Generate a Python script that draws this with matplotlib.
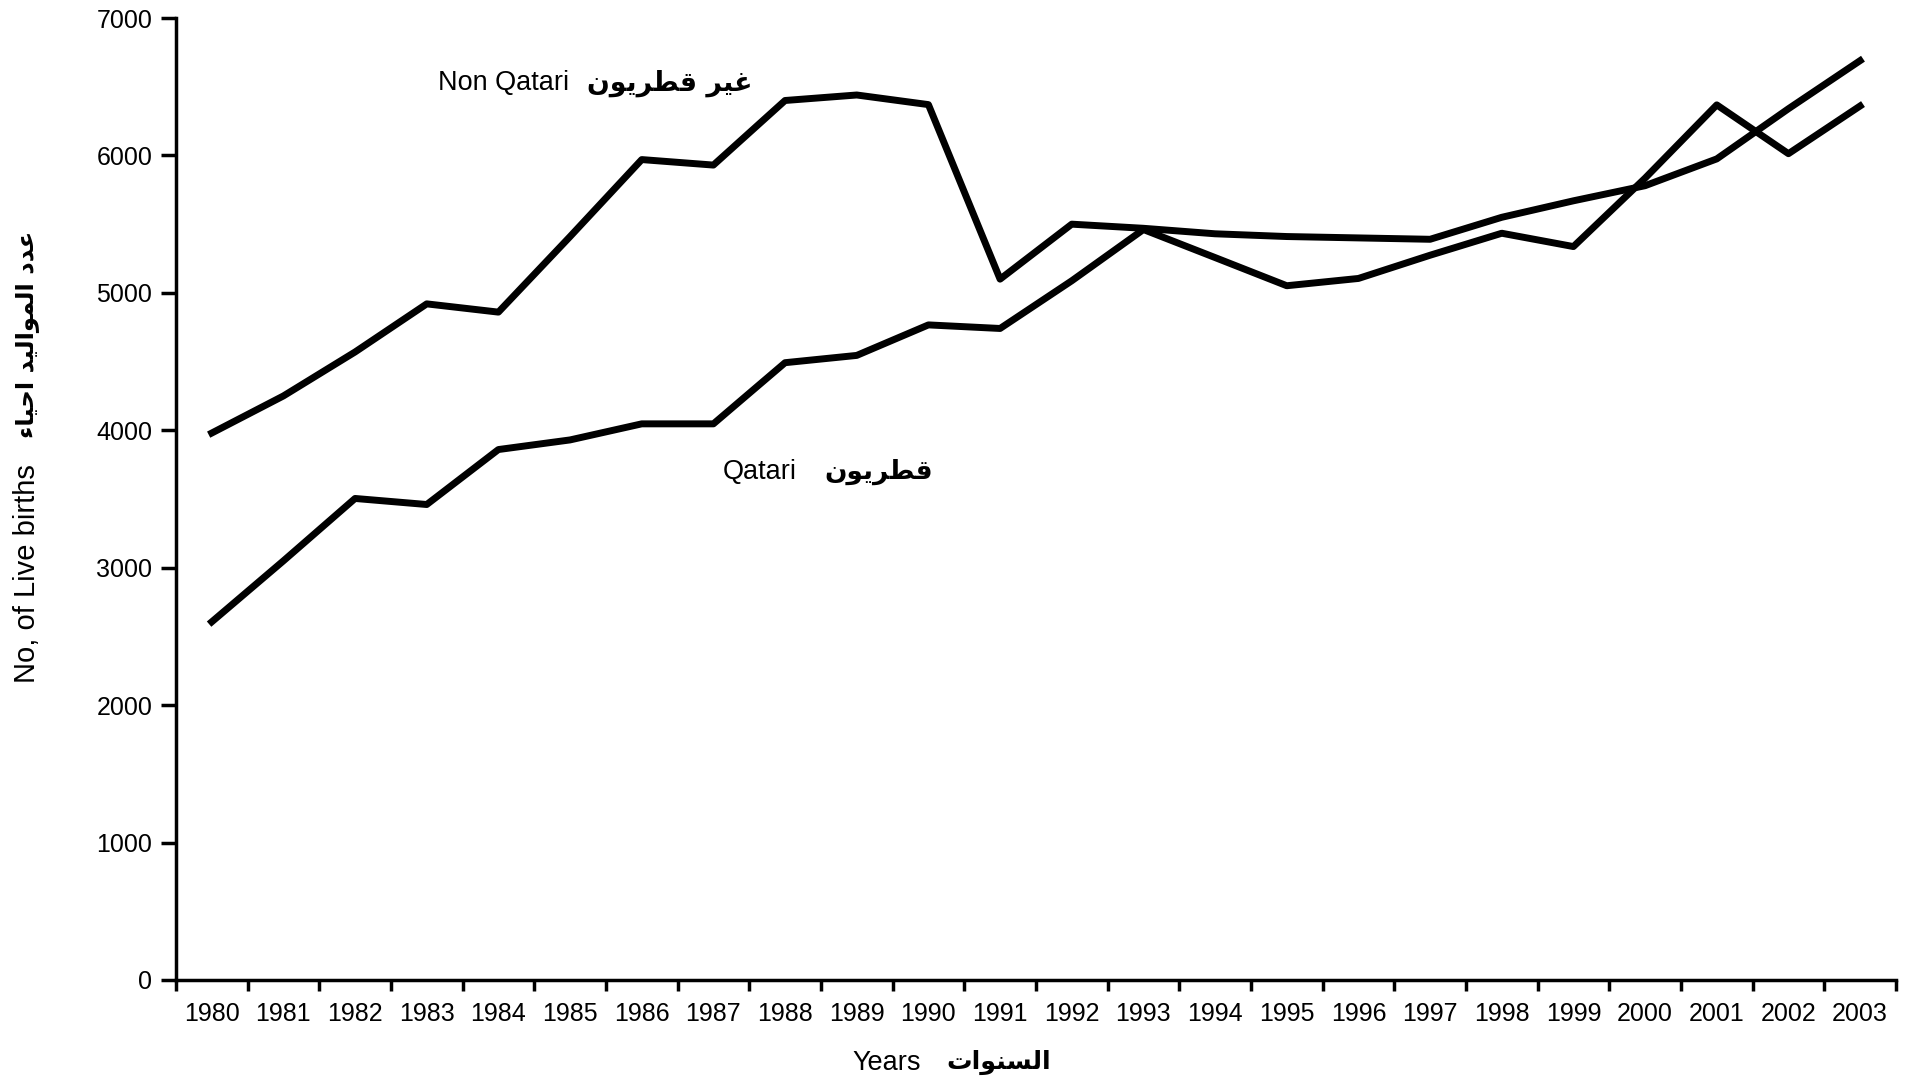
import numpy as np
import matplotlib
matplotlib.use('Agg')
from matplotlib import pyplot as plt

years = [str(y) for y in range(1980, 2004)]

non_qatari = [3980, 4250, 4570, 4920, 4860, 5410, 5970, 5930, 6400, 6440, 6370, 5100,
              5500, 5470, 5430, 5410, 5400, 5390, 5550, 5670, 5780, 5975, 6340, 6690]
qatari = [2606, 3050, 3504, 3460, 3860, 3930, 4047, 4047, 4492, 4545, 4767, 4741,
          5088, 5461, 5257, 5052, 5105, 5274, 5434, 5337, 5835, 6368, 6013, 6360]

yticks = [0, 1000, 2000, 3000, 4000, 5000, 6000, 7000]

# matplotlib does no arabic shaping, so pick the presentation forms by hand
# (isolated, final, initial, medial); None = letter never joins the next one
FORMS = {
    'ء': ('\uFE80', '\uFE80', None, None),
    'ا': ('\uFE8D', '\uFE8E', None, None),
    'ت': ('\uFE95', '\uFE96', '\uFE97', '\uFE98'),
    'ح': ('\uFEA1', '\uFEA2', '\uFEA3', '\uFEA4'),
    'د': ('\uFEA9', '\uFEAA', None, None),
    'ر': ('\uFEAD', '\uFEAE', None, None),
    'س': ('\uFEB1', '\uFEB2', '\uFEB3', '\uFEB4'),
    'ط': ('\uFEC1', '\uFEC2', '\uFEC3', '\uFEC4'),
    'ع': ('\uFEC9', '\uFECA', '\uFECB', '\uFECC'),
    'غ': ('\uFECD', '\uFECE', '\uFECF', '\uFED0'),
    'ق': ('\uFED5', '\uFED6', '\uFED7', '\uFED8'),
    'ل': ('\uFEDD', '\uFEDE', '\uFEDF', '\uFEE0'),
    'م': ('\uFEE1', '\uFEE2', '\uFEE3', '\uFEE4'),
    'ن': ('\uFEE5', '\uFEE6', '\uFEE7', '\uFEE8'),
    'و': ('\uFEED', '\uFEEE', None, None),
    'ي': ('\uFEF1', '\uFEF2', '\uFEF3', '\uFEF4'),
}


def shape(text):
    words = []
    for word in text.split(' '):
        glyphs = []
        for i, ch in enumerate(word):
            iso, fin, ini, med = FORMS[ch]
            joinPrev = i > 0 and FORMS[word[i - 1]][2] is not None
            joinNext = i < len(word) - 1 and ini is not None
            if joinPrev and joinNext:
                glyphs.append(med)
            elif joinPrev:
                glyphs.append(fin)
            elif joinNext:
                glyphs.append(ini)
            else:
                glyphs.append(iso)
        words.append(''.join(reversed(glyphs)))
    return ' '.join(reversed(words))


plt.rcParams['font.family'] = ['Liberation Sans', 'DejaVu Sans']
AR = ['DejaVu Sans']

fig = plt.figure(figsize=(19.12, 10.8), dpi=100)
ax = fig.add_axes([0.092, 0.0926, 0.8996, 0.8907])

x = np.arange(len(years))
ax.plot(x, non_qatari, color='black', linewidth=5, solid_joinstyle='round')
ax.plot(x, qatari, color='black', linewidth=5, solid_joinstyle='round')

ax.set_xlim(-0.5, len(years) - 0.5)
ax.set_ylim(0, 7000)
ax.spines['top'].set_visible(False)
ax.spines['right'].set_visible(False)
ax.spines['left'].set_linewidth(2.5)
ax.spines['bottom'].set_linewidth(2.5)

ax.set_yticks(yticks)
ax.set_yticklabels([str(v) for v in yticks], fontsize=18)
ax.tick_params(axis='y', length=11, width=2.5, pad=6)

# ticks on category boundaries, labels in the middle
ax.set_xticks(np.arange(-0.5, len(years), 1.0))
ax.set_xticklabels([])
ax.set_xticks(x, minor=True)
ax.set_xticklabels(years, minor=True, fontsize=18)
ax.tick_params(axis='x', which='major', length=8, width=2.5)
ax.tick_params(axis='x', which='minor', length=0, pad=16)

fig.text(0.229, 0.923, 'Non Qatari', fontsize=19.5, va='center')
fig.text(0.307, 0.923, shape('غير قطريون'), fontsize=19.3, fontweight='bold',
         family=AR, va='center')
fig.text(0.378, 0.563, 'Qatari', fontsize=19.5, va='center')
fig.text(0.431, 0.563, shape('قطريون'), fontsize=19, fontweight='bold',
         family=AR, va='center')

fig.text(0.446, 0.016, 'Years', fontsize=19.5, va='center')
fig.text(0.495, 0.016, shape('السنوات'), fontsize=18.3, fontweight='bold',
         family=AR, va='center')

fig.text(0.014, 0.368, 'No, of Live births', fontsize=21, rotation=90,
         ha='center', va='bottom')
fig.text(0.014, 0.594, shape('عدد المواليد احياء'), fontsize=17.5, fontweight='bold',
         family=AR, rotation=90, ha='center', va='bottom')

plt.savefig('out.png', dpi=100)
